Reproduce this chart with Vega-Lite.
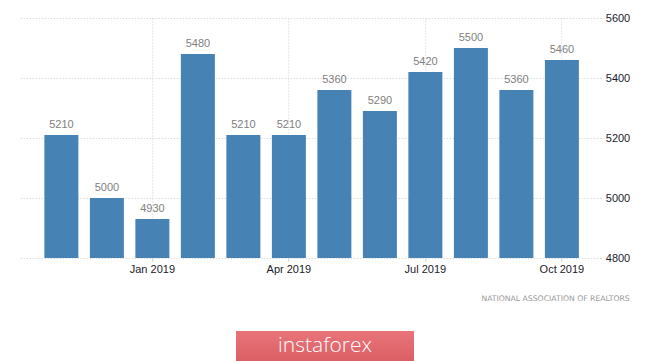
{
  "$schema": "https://vega.github.io/schema/vega-lite/v6.json",
  "padding": {"left": 20, "top": 12, "right": 0, "bottom": 0},
  "autosize": {"type": "pad"},
  "background": "white",
  "config": {
    "view": {"stroke": null},
    "font": "Liberation Sans"
  },
  "vconcat": [
    {
      "width": 580,
      "height": 240,
      "data": {
        "values": [
          {"month": "Nov 2018", "sales": 5210},
          {"month": "Dec 2018", "sales": 5000},
          {"month": "Jan 2019", "sales": 4930},
          {"month": "Feb 2019", "sales": 5480},
          {"month": "Mar 2019", "sales": 5210},
          {"month": "Apr 2019", "sales": 5210},
          {"month": "May 2019", "sales": 5360},
          {"month": "Jun 2019", "sales": 5290},
          {"month": "Jul 2019", "sales": 5420},
          {"month": "Aug 2019", "sales": 5500},
          {"month": "Sep 2019", "sales": 5360},
          {"month": "Oct 2019", "sales": 5460}
        ]
      },
      "title": {
        "text": "NATIONAL ASSOCIATION OF REALTORS",
        "orient": "bottom",
        "anchor": "end",
        "font": "DejaVu Sans",
        "fontSize": 7.7,
        "fontWeight": "normal",
        "color": "#999999",
        "offset": 21
      },
      "encoding": {
        "x": {
          "field": "month",
          "type": "ordinal",
          "sort": null,
          "scale": {"paddingInner": 0.253, "paddingOuter": 0.5, "align": 0.53},
          "axis": {
            "title": null,
            "values": ["Jan 2019", "Apr 2019", "Jul 2019", "Oct 2019"],
            "labelAngle": 0,
            "domain": false,
            "grid": true,
            "gridDash": [1, 2],
            "gridColor": "#cccccc",
            "bandPosition": 0.5,
            "ticks": true,
            "tickSize": 3,
            "tickColor": "#cccccc",
            "labelPadding": 2,
            "labelFontSize": 11,
            "labelColor": "#1a1a2a"
          }
        },
        "y": {
          "field": "sales",
          "type": "quantitative",
          "scale": {"domain": [4800, 5600], "zero": false, "nice": false},
          "axis": {
            "title": null,
            "orient": "right",
            "format": "d",
            "values": [4800, 5000, 5200, 5400, 5600],
            "domain": false,
            "grid": true,
            "gridDash": [1, 2],
            "gridColor": "#cccccc",
            "ticks": true,
            "tickSize": 2,
            "tickDash": [1, 2],
            "tickColor": "#cccccc",
            "labelPadding": 3,
            "labelFontSize": 11,
            "labelColor": "#1a1a2a"
          }
        }
      },
      "layer": [
        {"mark": {"type": "bar", "color": "#4682b4", "clip": true}},
        {
          "mark": {"type": "text", "baseline": "alphabetic", "dy": -7, "fontSize": 11, "color": "#808080"},
          "encoding": {"text": {"field": "sales", "type": "quantitative"}}
        }
      ]
    },
    {
      "width": 178,
      "height": 30,
      "data": {"values": [{"brand": "instaforex"}]},
      "layer": [
        {
          "mark": {
            "type": "rect",
            "color": {
              "gradient": "linear", "x1": 0, "y1": 0, "x2": 0, "y2": 1,
              "stops": [{"offset": 0, "color": "#e8747a"}, {"offset": 1, "color": "#db6065"}]
            }
          },
          "encoding": {}
        },
        {
          "mark": {"type": "text", "color": "white", "fontSize": 21, "font": "Open Sans", "fontWeight": 300},
          "encoding": {"text": {"field": "brand", "type": "nominal"}}
        }
      ]
    }
  ],
  "center": true,
  "spacing": 28
}
